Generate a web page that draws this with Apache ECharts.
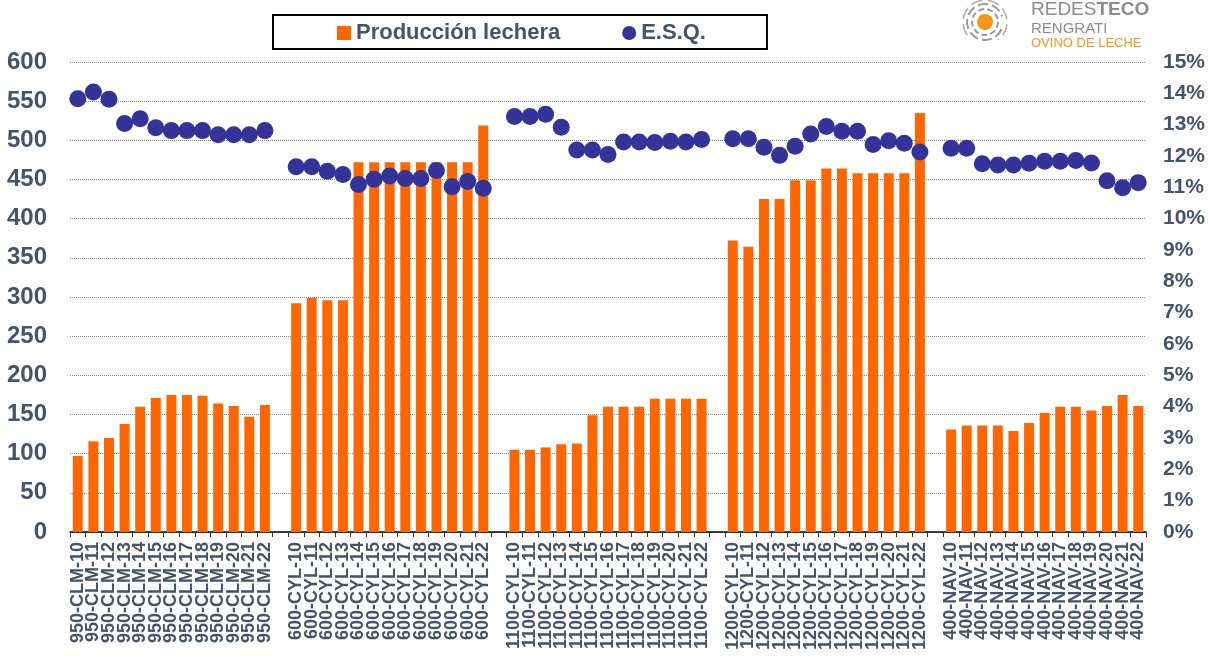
<!DOCTYPE html>
<html lang="es">
<head>
    <meta charset="UTF-8">
    <title>Producción lechera y E.S.Q.</title>
    <script src="https://cdn.jsdelivr.net/npm/echarts@6/dist/echarts.min.js"></script>
    <style>
        body { margin: 0; background: #fff; }
        #main { width: 1210px; height: 664px; }
    </style>
</head>
<body>
<div id="main"></div>
<script type="text/javascript">
    // grupos (rebaño) y años
    var grupos = ['950-CLM', '600-CYL', '1100-CYL', '1200-CYL', '400-NAV'];
    var anios = ['10', '11', '12', '13', '14', '15', '16', '17', '18', '19', '20', '21', '22'];

    // producción lechera por grupo
    var prod950 = [97, 116, 120, 138, 160, 171, 175, 175, 174, 164, 161, 147, 162];
    var prod600 = [292, 299, 296, 296, 472, 472, 472, 472, 472, 472, 472, 472, 519];
    var prod1100 = [105, 105, 108, 112, 113, 149, 160, 160, 160, 170, 170, 170, 170];
    var prod1200 = [372, 364, 425, 425, 449, 449, 464, 464, 458, 458, 458, 458, 535];
    var prod400 = [131, 136, 136, 136, 129, 139, 152, 160, 160, 155, 161, 175, 161];

    // E.S.Q. (%) por grupo
    var esq950 = [13.83, 14.04, 13.81, 13.04, 13.19, 12.90, 12.81, 12.81, 12.81, 12.68, 12.68, 12.68, 12.81];
    var esq600 = [11.66, 11.66, 11.51, 11.41, 11.09, 11.26, 11.36, 11.28, 11.28, 11.54, 11.02, 11.19, 10.97];
    var esq1100 = [13.26, 13.26, 13.33, 12.92, 12.19, 12.19, 12.05, 12.45, 12.45, 12.43, 12.47, 12.45, 12.53];
    var esq1200 = [12.55, 12.55, 12.28, 12.02, 12.31, 12.70, 12.94, 12.79, 12.79, 12.37, 12.49, 12.41, 12.13];
    var esq400 = [12.25, 12.25, 11.75, 11.71, 11.71, 11.77, 11.83, 11.83, 11.86, 11.78, 11.21, 10.99, 11.15];

    var prodGrupos = [prod950, prod600, prod1100, prod1200, prod400];
    var esqGrupos = [esq950, esq600, esq1100, esq1200, esq400];

    // categorías con un hueco entre grupos
    var categorias = [];
    var prodData = [];
    var esqData = [];
    for (var g = 0; g < grupos.length; g++) {
        if (g > 0) {
            categorias.push('');
            prodData.push('-');
            esqData.push('-');
        }
        for (var i = 0; i < anios.length; i++) {
            categorias.push(grupos[g] + '-' + anios[i]);
            prodData.push(prodGrupos[g][i]);
            esqData.push(esqGrupos[g][i]);
        }
    }

    var textColor = '#44546A';
    var dom = document.getElementById('main');
    var myChart = echarts.init(dom);

    var option = {
        animation: false,
        backgroundColor: '#fff',
        textStyle: { fontFamily: 'Liberation Sans, Arial, sans-serif' },
        legend: {
            left: 273,
            top: 15,
            padding: [7, 61, 5, 64],
            itemGap: 62,
            itemWidth: 14,
            itemHeight: 14,
            borderColor: '#000',
            borderWidth: 2,
            textStyle: { color: textColor, fontSize: 22, fontWeight: 'bold' },
            data: [
                { name: 'Producción lechera', icon: 'rect' },
                { name: 'E.S.Q.', icon: 'circle' }
            ]
        },
        grid: { left: 70, right: 64, top: 62, bottom: 132 },
        xAxis: {
            type: 'category',
            data: categorias,
            axisLine: { lineStyle: { color: '#000', width: 1.5 } },
            axisTick: { show: true, length: 5, lineStyle: { color: '#333' } },
            axisLabel: {
                interval: 0,
                rotate: 90,
                margin: 10,
                color: textColor,
                fontSize: 18,
                fontWeight: 'bold'
            }
        },
        yAxis: [
            {
                type: 'value',
                min: 0,
                max: 600,
                interval: 50,
                axisLine: { show: false },
                axisTick: { show: false },
                axisLabel: { color: textColor, fontSize: 24, fontWeight: 'bold', margin: 23 },
                splitLine: { lineStyle: { color: '#8a8a8a', type: 'dotted', width: 1 } }
            },
            {
                type: 'value',
                min: 0,
                max: 15,
                interval: 1,
                axisLine: { show: false },
                axisTick: { show: false },
                axisLabel: { color: textColor, fontSize: 21, fontWeight: 'bold', margin: 17, formatter: '{value}%' },
                splitLine: { show: false }
            }
        ],
        series: [
            {
                name: 'Producción lechera',
                type: 'bar',
                yAxisIndex: 0,
                data: prodData,
                barCategoryGap: '36%',
                itemStyle: { color: '#FF6600' }
            },
            {
                name: 'E.S.Q.',
                type: 'scatter',
                yAxisIndex: 1,
                data: esqData,
                symbol: 'circle',
                symbolSize: 17,
                itemStyle: { color: '#333399', opacity: 1 }
            }
        ],
        graphic: [
            // logo
            { type: 'circle', shape: { cx: 985, cy: 22, r: 8 }, style: { fill: '#F7941D' } },
            { type: 'arc', shape: { cx: 985, cy: 22, r: 13, startAngle: 0, endAngle: Math.PI * 2 },
              style: { stroke: '#9a9a9a', lineWidth: 2, fill: null, lineDash: [6, 3] } },
            { type: 'arc', shape: { cx: 985, cy: 22, r: 18, startAngle: 0.4, endAngle: Math.PI * 1.9 },
              style: { stroke: '#9a9a9a', lineWidth: 2, fill: null, lineDash: [10, 4] } },
            { type: 'arc', shape: { cx: 985, cy: 22, r: 22, startAngle: 2.5, endAngle: Math.PI * 2.3 },
              style: { stroke: '#b0b0b0', lineWidth: 1.5, fill: null, lineDash: [12, 5] } },
            { type: 'text', left: 1031, top: 0,
              style: {
                  text: '{a|REDES}{b|TECO}',
                  rich: {
                      a: { fill: '#8c8c8c', fontSize: 19, fontFamily: 'Liberation Sans, Arial', fontWeight: 'normal' },
                      b: { fill: '#8c8c8c', fontSize: 19, fontFamily: 'Liberation Sans, Arial', fontWeight: 'bold' }
                  }
              } },
            { type: 'text', left: 1031, top: 21,
              style: { text: 'RENGRATI', fill: '#8c8c8c', fontSize: 15, fontFamily: 'Liberation Sans, Arial' } },
            { type: 'text', left: 1031, top: 37,
              style: { text: 'OVINO DE LECHE', fill: '#F7941D', fontSize: 13, fontFamily: 'Liberation Sans, Arial' } }
        ]
    };

    if (option && typeof option === 'object') {
        myChart.setOption(option, true);
    }
</script>
</body>
</html>
